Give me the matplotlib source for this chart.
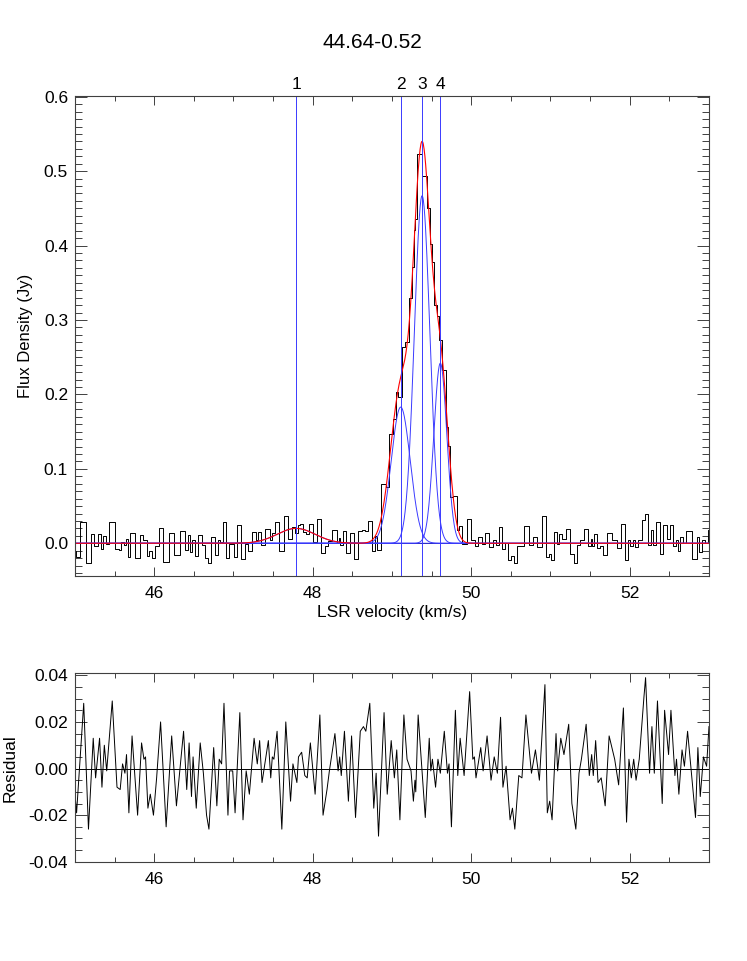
import numpy as np
import matplotlib
matplotlib.use('Agg')
import matplotlib.pyplot as plt
from matplotlib.ticker import MultipleLocator, FormatStrFormatter

plt.rcParams['font.family'] = ['Liberation Sans', 'DejaVu Sans']

source_name = '44.64-0.52'

# gaussian components drawn in blue: centre (km/s), peak (Jy), sigma (km/s)
comp_label = ['1', '2', '3', '4']
comp_center = [47.79, 49.11, 49.38, 49.61]
comp_amp = [0.020, 0.183, 0.467, 0.242]
comp_sigma = [0.24, 0.12, 0.098, 0.082]

# total fit (red curve), same centres
fit_amp = [0.020, 0.205, 0.500, 0.230]
fit_sigma = [0.24, 0.13, 0.105, 0.100]

# residual (km/s, Jy)
vel = [45.00, 45.02, 45.11, 45.17, 45.23, 45.26, 45.31, 45.34, 45.37, 45.40,
       45.47, 45.53, 45.57, 45.60, 45.63, 45.65, 45.68, 45.72, 45.79, 45.84,
       45.87, 45.89, 45.92, 45.95, 45.99, 46.03, 46.08, 46.15, 46.22, 46.28,
       46.37, 46.41, 46.44, 46.47, 46.49, 46.53, 46.58, 46.62, 46.66, 46.69,
       46.75, 46.79, 46.82, 46.85, 46.88, 46.93, 46.95, 46.99, 47.02, 47.08,
       47.12, 47.16, 47.20, 47.26, 47.30, 47.33, 47.36, 47.44, 47.47, 47.49,
       47.51, 47.55, 47.61, 47.66, 47.72, 47.75, 47.80, 47.82, 47.86, 47.90,
       47.93, 47.97, 48.03, 48.09, 48.13, 48.18, 48.21, 48.28, 48.32, 48.34,
       48.36, 48.40, 48.45, 48.49, 48.54, 48.60, 48.64, 48.67, 48.72, 48.77,
       48.80, 48.83, 48.90, 48.94, 48.99, 49.03, 49.06, 49.10, 49.15, 49.19,
       49.24, 49.27, 49.29, 49.30, 49.33, 49.42, 49.47, 49.49, 49.51, 49.55,
       49.58, 49.61, 49.66, 49.70, 49.72, 49.75, 49.80, 49.83, 49.86, 49.91,
       49.98, 50.02, 50.04, 50.06, 50.12, 50.15, 50.20, 50.25, 50.29, 50.33,
       50.37, 50.40, 50.44, 50.49, 50.52, 50.55, 50.60, 50.64, 50.69, 50.76,
       50.81, 50.86, 50.93, 50.96, 50.99, 51.02, 51.07, 51.09, 51.13, 51.17,
       51.23, 51.27, 51.32, 51.36, 51.39, 51.45, 51.49, 51.52, 51.54, 51.57,
       51.60, 51.64, 51.69, 51.74, 51.81, 51.86, 51.92, 51.96, 51.99, 52.02,
       52.05, 52.08, 52.12, 52.18, 52.20, 52.25, 52.28, 52.31, 52.35, 52.41,
       52.44, 52.49, 52.52, 52.57, 52.59, 52.62, 52.66, 52.69, 52.73, 52.83,
       52.86, 52.89, 52.93, 52.97, 53.00]
resid = [-0.011, -0.019, 0.028, -0.026, 0.013, -0.004, 0.013, -0.008, 0.010, -0.001,
         0.029, -0.008, -0.009, 0.002, -0.002, 0.006, -0.019, 0.014, -0.020, 0.011,
         0.004, 0.005, -0.017, -0.011, -0.020, -0.004, 0.020, -0.025, 0.014, -0.016,
         0.016, -0.009, 0.011, -0.012, 0.005, -0.017, 0.011, -0.002, -0.020, -0.026,
         0.009, -0.016, 0.004, 0.002, 0.028, -0.020, -0.001, -0.001, -0.019, 0.024,
         -0.022, -0.001, -0.011, 0.013, 0.002, 0.012, -0.006, 0.012, -0.004, 0.005,
         0.004, 0.016, -0.026, 0.020, -0.014, 0.002, -0.006, 0.005, 0.007, -0.003,
         -0.004, 0.011, -0.011, 0.023, -0.020, -0.009, -0.001, 0.015, -0.001, 0.005,
         -0.003, 0.016, -0.014, 0.014, -0.021, 0.016, 0.018, 0.016, 0.028, -0.017,
         -0.002, -0.029, 0.024, -0.011, 0.012, -0.004, 0.008, -0.022, 0.023, 0.004,
         -0.001, -0.014, -0.005, -0.010, 0.023, -0.021, 0.013, -0.001, 0.004, -0.008,
         0.004, -0.002, 0.016, -0.002, 0.002, -0.025, 0.025, -0.003, 0.013, -0.003,
         0.033, 0.004, 0.005, -0.004, 0.009, -0.001, 0.014, -0.005, 0.005, -0.002,
         0.022, -0.008, 0.001, -0.022, -0.017, -0.026, -0.003, -0.004, 0.023, -0.002,
         0.008, -0.005, 0.036, -0.019, -0.014, -0.022, 0.015, -0.001, 0.013, 0.006,
         0.019, -0.015, -0.026, -0.002, 0.004, 0.019, -0.003, 0.006, -0.003, 0.012,
         -0.006, -0.004, -0.016, 0.014, 0.004, -0.007, 0.026, -0.023, 0.004, -0.004,
         0.004, -0.005, 0.004, 0.031, 0.039, -0.002, 0.018, -0.002, 0.029, -0.015,
         0.025, 0.006, 0.025, -0.003, 0.004, -0.011, 0.008, 0.001, 0.016, -0.021,
         0.009, -0.012, 0.005, 0.001, 0.018]


def gauss(x, amp, cen, sig):
    return amp * np.exp(-0.5 * ((x - cen) / sig) ** 2)


def fit_model(x):
    total = np.zeros_like(x)
    for a, c, s in zip(fit_amp, comp_center, fit_sigma):
        total += gauss(x, a, c, s)
    return total


vel = np.array(vel)
resid = np.array(resid)
spec = fit_model(vel) + resid

xfine = np.linspace(45, 53, 1601)

axis_col = '#404040'
blue = '#3a3aff'


def idl_axes(ax):
    for sp in ax.spines.values():
        sp.set_color(axis_col)
        sp.set_linewidth(0.8)
    ax.tick_params(which='both', direction='in', top=True, right=True,
                   colors=axis_col, labelcolor='black', labelsize=12.5, width=0.7)
    ax.tick_params(axis='x', which='major', length=6.5, pad=7)
    ax.tick_params(axis='x', which='minor', length=3.4)
    ax.tick_params(axis='y', which='major', length=8.6, pad=5)
    ax.tick_params(axis='y', which='minor', length=4.8)
    ax.xaxis.set_major_locator(MultipleLocator(2))
    ax.xaxis.set_minor_locator(MultipleLocator(0.5))
    ax.set_xlim(45, 53)


fig = plt.figure(figsize=(7.47, 9.61), dpi=100)

ax = fig.add_axes([0.1004, 0.4006, 0.8487, 0.4995])
ax.axhline(0, color='black', lw=0.7)
ax.plot(vel, spec, drawstyle='steps-mid', color='black', lw=0.7)
for a, c, s in zip(comp_amp, comp_center, comp_sigma):
    ax.plot(xfine, gauss(xfine, a, c, s), color=blue, lw=0.7)
ax.plot(xfine, fit_model(xfine), color='red', lw=0.8)
for lab, c in zip(comp_label, comp_center):
    ax.axvline(c, color=blue, lw=0.7)
    ax.text(c, 1.008, lab, transform=ax.get_xaxis_transform(),
            ha='center', va='bottom', fontsize=12.5)
ax.set_ylim(-0.044, 0.601)
ax.yaxis.set_major_locator(MultipleLocator(0.1))
ax.yaxis.set_minor_locator(MultipleLocator(0.01))
ax.yaxis.set_major_formatter(FormatStrFormatter('%.1f'))
idl_axes(ax)

ax_r = fig.add_axes([0.1004, 0.1030, 0.8487, 0.1967])
ax_r.axhline(0, color='black', lw=0.7)
ax_r.plot(vel, resid, color='black', lw=0.7)
ax_r.set_ylim(-0.0401, 0.041)
ax_r.yaxis.set_major_locator(MultipleLocator(0.02))
ax_r.yaxis.set_minor_locator(MultipleLocator(0.005))
ax_r.yaxis.set_major_formatter(FormatStrFormatter('%.2f'))
idl_axes(ax_r)

fig.text(0.498, 0.956, source_name, ha='center', va='center', fontsize=15)
fig.text(0.525, 0.3625, 'LSR velocity (km/s)', ha='center', va='center', fontsize=12.5)
fig.text(0.034, 0.650, 'Flux Density (Jy)', ha='center', va='center',
         rotation=90, fontsize=12)
fig.text(0.014, 0.201, 'Residual', ha='center', va='center', rotation=90, fontsize=12.5)

fig.savefig('out.png', dpi=100)
